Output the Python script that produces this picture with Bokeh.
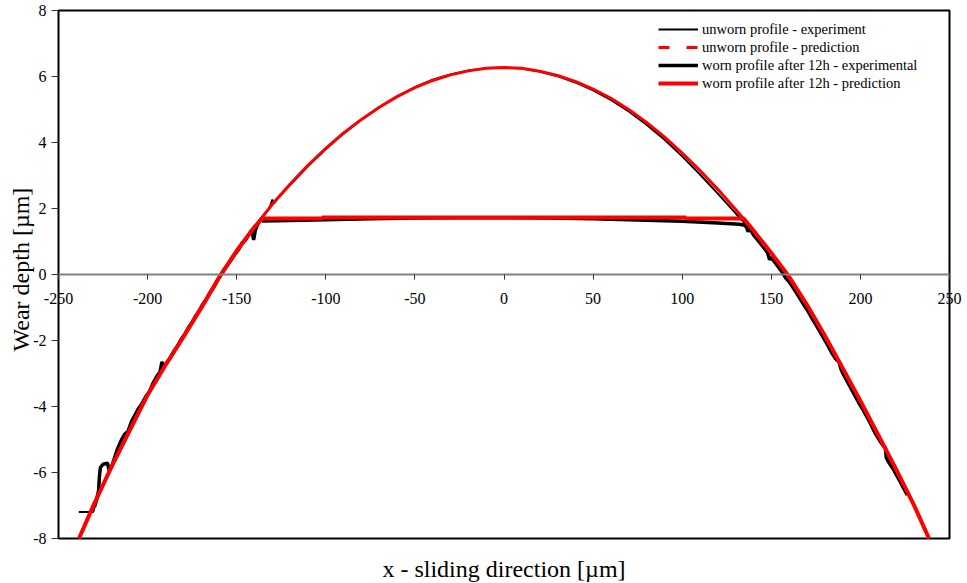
import math
from bokeh.plotting import figure
from bokeh.models import LinearAxis, FixedTicker, Legend, LegendItem, ColumnDataSource, Label, Range1d
from bokeh.core.properties import value
from bokeh.embed import file_html
from bokeh.resources import INLINE

# ---------------- data ----------------
x_ticks = [-250, -200, -150, -100, -50, 0, 50, 100, 150, 200, 250]
y_ticks = [-8, -6, -4, -2, 0, 2, 4, 6, 8]

# predicted profile (red)
pred_left_x = [-238.5, -230, -220, -210, -200, -190, -180, -170, -160, -150, -140]
pred_left_y = [-8.00, -6.95, -5.80, -4.72, -3.65, -2.75, -1.90, -1.02, -0.10, 0.72, 1.44]
pred_arc_x = [-130, -120, -110, -100, -90, -80, -70, -60, -50, -40, -30, -20, -10, 0,
              10, 20, 30, 40, 50, 60, 70, 80, 90, 100, 110, 120, 130]
pred_arc_y = [2.13, 2.74, 3.31, 3.82, 4.29, 4.70, 5.07, 5.39, 5.66, 5.88, 6.05, 6.17, 6.25, 6.27,
              6.25, 6.16, 6.03, 5.85, 5.62, 5.34, 5.00, 4.61, 4.17, 3.68, 3.15, 2.58, 1.97]
pred_right_x = [140, 150, 160, 170, 180, 190, 200, 210, 220, 230, 238.5]
pred_right_y = [1.33, 0.65, -0.07, -0.92, -1.85, -2.83, -3.83, -4.86, -5.90, -6.98, -8.00]
pred_flat_x = [-135.5, -102, -102, 102, 102, 134.5]
pred_flat_y = [1.70, 1.70, 1.73, 1.73, 1.70, 1.70]

# measured profile (black)
exp_left_x = [-238.6, -230.5, -229.8, -228.5, -227.5, -227.0, -226.5, -225.0, -222.5, -221.5,
              -220.0, -218.5, -217.0, -215.0, -213.0, -211.0, -209.0, -207.0, -205.0, -203.0,
              -201.0, -199.0, -197.0, -195.0, -193.0, -192.0, -191.0, -189.0, -187.0, -185.0,
              -183.0, -181.0, -179.0, -177.0, -175.0, -173.0, -171.0, -169.0, -167.0, -165.0,
              -163.0, -161.0, -159.0, -157.0, -155.0, -153.0, -151.0, -149.0, -147.0, -145.0,
              -143.0, -141.5, -140.5, -139.5, -138.0, -136.0]
exp_left_y = [-7.20, -7.20, -7.05, -6.80, -6.55, -6.10, -5.85, -5.75, -5.72, -5.95,
              -5.80, -5.55, -5.30, -5.05, -4.85, -4.75, -4.45, -4.25, -4.05, -3.90,
              -3.70, -3.55, -3.30, -3.10, -2.95, -2.65, -2.80, -2.65, -2.50, -2.30,
              -2.15, -1.95, -1.80, -1.60, -1.45, -1.25, -1.10, -0.90, -0.75, -0.55,
              -0.40, -0.20, -0.02, 0.15, 0.30, 0.45, 0.62, 0.75, 0.95, 1.05,
              1.22, 1.35, 1.05, 1.35, 1.55, 1.70]
exp_arc_x = [-134, -132, -131, -130, -129, -128, -120, -110, -100, -90, -80, -70, -60, -50, -40,
             -30, -20, -10, 0, 10, 20, 30, 40, 50, 60, 70, 80, 90, 100, 110, 120, 130, 134]
exp_arc_y = [1.85, 1.98, 2.10, 2.27, 2.15, 2.25, 2.72, 3.28, 3.80, 4.27, 4.69, 5.06, 5.40, 5.68, 5.90,
             6.06, 6.18, 6.25, 6.27, 6.24, 6.15, 6.01, 5.82, 5.58, 5.29, 4.94, 4.54, 4.09, 3.58,
             3.03, 2.45, 1.85, 1.62]
exp_right_x = [136, 137, 138, 140, 143, 146, 148, 149, 150, 153, 156, 158, 160, 162, 164, 166, 168,
               170, 172, 175, 178, 181, 184, 186, 188, 189, 190, 193, 196, 199, 202, 205, 208, 211,
               213, 214, 214.5, 216, 219, 222, 224, 226.3]
exp_right_y = [1.45, 1.30, 1.40, 1.20, 1.00, 0.80, 0.65, 0.45, 0.52, 0.30, 0.08, -0.10, -0.22, -0.38,
               -0.55, -0.72, -0.90, -1.06, -1.25, -1.52, -1.80, -2.08, -2.38, -2.55, -2.65, -2.85,
               -2.98, -3.28, -3.58, -3.88, -4.15, -4.45, -4.78, -5.05, -5.20, -5.25, -5.55, -5.70,
               -5.95, -6.25, -6.45, -6.68]
worn_flat_x = [-135.5, -120, -100, -75, -50, -25, 0, 25, 50, 75, 100, 120, 132, 134.5]
worn_flat_y = [1.62, 1.64, 1.66, 1.69, 1.71, 1.72, 1.72, 1.71, 1.69, 1.65, 1.61, 1.56, 1.52, 1.50]

series_labels = ["unworn profile - experiment", "unworn profile - prediction",
                 "worn profile after 12h - experimental", "worn profile after 12h - prediction"]
x_title = "x - sliding direction [µm]"
y_title = "Wear depth [µm]"

# ---------------- assemble series ----------------
unworn_exp = ColumnDataSource(dict(x=exp_left_x + exp_arc_x + exp_right_x,
                                   y=exp_left_y + exp_arc_y + exp_right_y))
unworn_pred = ColumnDataSource(dict(x=pred_left_x + pred_arc_x + pred_right_x,
                                    y=pred_left_y + pred_arc_y + pred_right_y))
worn_exp = ColumnDataSource(dict(x=exp_left_x[2:] + worn_flat_x + exp_right_x,
                                 y=exp_left_y[2:] + worn_flat_y + exp_right_y))
worn_pred = ColumnDataSource(dict(x=pred_left_x + pred_flat_x + pred_right_x,
                                  y=pred_left_y + pred_flat_y + pred_right_y))

SERIF = "'Liberation Serif', 'Times New Roman', serif"

# ---------------- layout: frame covers the whole canvas, the box is drawn ----------------
W, H = 967, 583
box_l, box_r, box_t, box_b = 58, 949, 10, 538          # pixel position of the plot box
xmin, xmax = x_ticks[0], x_ticks[-1]
ymin, ymax = y_ticks[0], y_ticks[-1]
sx = (box_r - box_l) / (xmax - xmin)
sy = (box_b - box_t) / (ymax - ymin)
x_range = Range1d(xmin - box_l / sx, xmax + (W - box_r) / sx)
y_range = Range1d(ymin - (H - box_b) / sy, ymax + box_t / sy)

p = figure(width=W, height=H, x_range=x_range, y_range=y_range,
           output_backend="svg", toolbar_location=None,
           x_axis_location=None, y_axis_location=None,
           min_border=0)
p.background_fill_color = "white"
p.border_fill_color = "white"
p.outline_line_color = None
p.grid.visible = False

# x axis crossing at y = 0 (line + ticks; labels drawn as text below)
xax = LinearAxis(fixed_location=0, ticker=FixedTicker(ticks=x_ticks), bounds=(xmin, xmax))
xax.axis_line_color = "#808080"
xax.axis_line_width = 2
xax.major_tick_line_color = "#333333"
xax.major_tick_out = 5
xax.major_tick_in = 0
xax.minor_tick_line_color = None
xax.major_label_text_font_size = "0px"
xax.major_label_overrides = {t: "" for t in x_ticks}
p.add_layout(xax, "below")

# y axis ticks on the left edge of the box
yax = LinearAxis(fixed_location=xmin, ticker=FixedTicker(ticks=y_ticks), bounds=(ymin, ymax))
yax.axis_line_color = None
yax.major_tick_line_color = "#333333"
yax.major_tick_out = 7
yax.major_tick_in = 0
yax.minor_tick_line_color = None
yax.major_label_text_font_size = "0px"
yax.major_label_overrides = {t: "" for t in y_ticks}
p.add_layout(yax, "left")

# tick labels
p.text(x=x_ticks, y=[0] * len(x_ticks), text=[str(t) for t in x_ticks],
       text_font=value(SERIF), text_font_size="16px", text_color="black",
       text_align="center", text_baseline="middle", y_offset=24)
p.text(x=[xmin] * len(y_ticks), y=y_ticks, text=[str(t) for t in y_ticks],
       text_font=value(SERIF), text_font_size="16px", text_color="black",
       text_align="right", text_baseline="middle", x_offset=-12)

# plot box
p.quad(left=[xmin], right=[xmax], bottom=[ymin], top=[ymax],
       fill_color=None, line_color="black", line_width=2)

# axis titles
p.add_layout(Label(x=(xmin + xmax) / 2, y=ymin - 30 / sy, text=x_title,
                   text_align="center", text_baseline="middle",
                   text_font=SERIF, text_font_size="24px", text_color="black"))
p.add_layout(Label(x=xmin - 38 / sx, y=0.15, text=y_title, angle=math.pi / 2,
                   text_align="center", text_baseline="middle",
                   text_font=SERIF, text_font_size="24px", text_color="black"))

r1 = p.line("x", "y", source=unworn_exp, line_color="black", line_width=2)
r2 = p.line("x", "y", source=unworn_pred, line_color="red", line_width=3)
r3 = p.line("x", "y", source=worn_exp, line_color="black", line_width=3.5)
r4 = p.line("x", "y", source=worn_pred, line_color="red", line_width=4)

# legend glyph for dashed prediction line
r2_leg = p.line([float("nan")], [float("nan")], line_color="red", line_width=3, line_dash="11 17")

legend = Legend(items=[LegendItem(label=series_labels[0], renderers=[r1]),
                       LegendItem(label=series_labels[1], renderers=[r2_leg]),
                       LegendItem(label=series_labels[2], renderers=[r3]),
                       LegendItem(label=series_labels[3], renderers=[r4])],
                location=(658, 491))
legend.border_line_color = None
legend.background_fill_alpha = 0
legend.label_text_font = SERIF
legend.label_text_font_size = "14.5px"
legend.label_text_color = "black"
legend.glyph_width = 40
legend.glyph_height = 18
legend.label_height = 18
legend.spacing = 0
legend.padding = 4
legend.margin = 0
legend.label_standoff = 4
p.add_layout(legend)

open("out.html", "w").write(file_html(p, INLINE))
